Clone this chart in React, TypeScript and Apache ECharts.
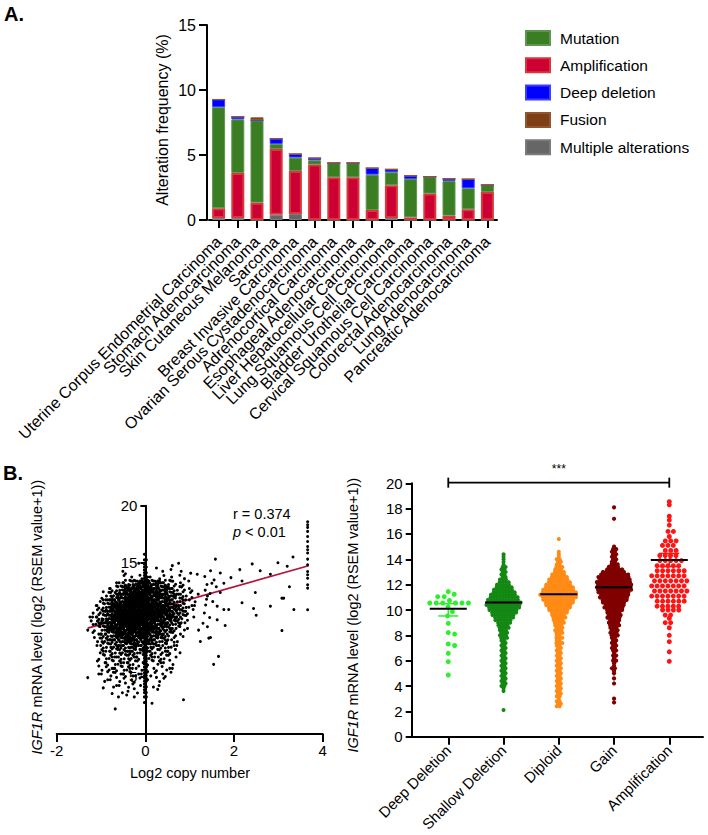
import React, { useEffect, useRef } from "react";
import * as echarts from "echarts";

// ---------- Panel A data ----------
const cancerTypes = [
  "Uterine Corpus Endometrial Carcinoma",
  "Stomach Adenocarcinoma",
  "Skin Cutaneous Melanoma",
  "Sarcoma",
  "Breast Invasive Carcinoma",
  "Ovarian Serous Cystadenocarcinoma",
  "Adrenocortical Carcinoma",
  "Esophageal Adenocarcinoma",
  "Liver Hepatocellular Carcinoma",
  "Lung Squamous Cell Carcinoma",
  "Bladder Urothelial Carcinoma",
  "Cervical Squamous Cell Carcinoma",
  "Colorectal Adenocarcinoma",
  "Lung Adenocarcinoma",
  "Pancreatic Adenocarcinoma",
];
const multipleAlterations = [0.15, 0.15, 0, 0.4, 0.46, 0, 0, 0, 0, 0.15, 0, 0, 0, 0, 0];
const amplification = [0.75, 3.47, 1.33, 5.06, 3.31, 4.26, 3.28, 3.28, 0.77, 2.52, 0.2, 2.03, 0.33, 0.82, 2.15];
const mutation = [7.77, 4.12, 6.34, 0.39, 1.03, 0.33, 1.1, 1.1, 2.72, 1.0, 2.95, 1.3, 2.67, 1.62, 0.54];
const deepDeletion = [0.6, 0.21, 0, 0.41, 0.28, 0.18, 0, 0, 0.51, 0.23, 0.26, 0, 0.18, 0.71, 0];
const fusion = [0, 0, 0.23, 0, 0, 0, 0, 0, 0, 0, 0, 0, 0, 0, 0];
const legendNames = ["Mutation", "Amplification", "Deep deletion", "Fusion", "Multiple alterations"];
const freqTicks = [0, 5, 10, 15];

// ---------- Panel B (left) data: scatter ----------
// density of points per cell: columns x from -1.3 step 0.1, rows y from 15 downward step 0.5
const densityX0 = -1.3;
const densityDX = 0.1;
const densityY0 = 15;
const densityDY = 0.5;
const densityRows = [
  "00000000000100010001100000",
  "00000001100000001010010100",
  "00000000110121101110110000",
  "00000012345666554332111000",
  "00001234567887766543221100",
  "00012345789998877654321110",
  "00123567899988776654322110",
  "01234678999999887765432110",
  "01235789999999988766432100",
  "12346789999999887765431100",
  "12346789999998877654321000",
  "01245778899887766543211000",
  "01234567788776655432110000",
  "01233456676655544322100000",
  "00223344455444433321100000",
  "00122333344333322221100000",
  "00122232333222222211000000",
  "00112222232121212111000000",
  "00112222222111111111000000",
  "00111212222111111110000000",
  "00011111111101011100000000",
  "00010111111100101000000000",
  "00000101011100010000000000",
  "00000010101000000000000000",
];
// points stacked on copy number 0 : counts per 0.5 bin starting at y = 2.5
const stripY0 = 2.5;
const stripCounts = [2, 3, 4, 5, 6, 6, 6, 6, 6, 6, 6, 6, 6, 6, 6, 6, 6, 6, 6, 6, 6, 6, 5, 4, 4, 3, 2];
const sparsePoints = [
  [1.58, 15.32], [2.41, 14.9], [2.99, 15.0], [3.2, 14.7], [3.33, 15.5], [2.13, 14.4], [2.59, 14.3],
  [2.82, 14.0], [2.18, 13.4], [1.93, 13.7], [1.77, 13.2], [2.48, 12.4], [3.25, 12.9], [3.08, 11.9],
  [3.12, 11.9], [2.82, 11.2], [2.18, 11.5], [3.35, 10.9], [2.44, 11.0], [2.5, 10.4], [1.88, 10.9],
  [1.8, 9.5], [3.08, 9.06], [1.47, 8.45], [1.43, 8.4], [1.24, 8.1], [1.65, 6.8], [1.54, 6.1],
  [0.86, 3.0], [0.15, 2.7], [-0.68, 2.2], [-1.3, 4.94], [-1.3, 9.1], [1.17, 14.0], [1.47, 14.3],
  [1.69, 14.1], [1.5, 13.2], [1.39, 13.1], [1.35, 12.6], [1.46, 12.3], [1.69, 12.4], [1.62, 11.2],
  [1.77, 10.9], [1.62, 10.0], [1.4, 9.4], [1.2, 9.1], [1.55, 13.5], [1.38, 11.8], [1.52, 11.6],
  [1.33, 10.6], [1.45, 10.2], [1.34, 13.8], [1.4, 12.1], [1.6, 12.9], [1.3, 9.7], [1.36, 11.3],
];
const maxCopyX = 3.66;
const maxCopyY = [18.6, 18.33, 18.1, 17.75, 17.3, 16.87, 16.43, 16.14, 15.85, 15.32, 14.82, 14.24, 13.95, 13.65, 13.07, 12.78, 10.88];
const regressionLine = [[-1.3, 9.27], [3.68, 14.74]];
const copyTicks = [-2, 0, 2, 4];

// ---------- Panel B (right) data: copy-number groups ----------
const copyCategories = ["Deep Deletion", "Shallow Deletion", "Diploid", "Gain", "Amplification"];
const deepDelValues = [11.45, 11.24, 11.05, 11.05, 10.75, 10.55, 10.55, 10.55, 10.55, 10.55, 10.55, 10.25, 9.87, 9.53, 8.95, 8.22, 8.1, 7.32, 7.2, 6.58, 5.92, 4.87];
const shallowRows = [
  [14.4, 1], [14.2, 1], [14.0, 1], [13.8, 1], [13.6, 1], [13.4, 2], [13.2, 2], [13.0, 2], [12.8, 2], [12.6, 2],
  [12.4, 3], [12.2, 4], [12.0, 5], [11.8, 6], [11.6, 7], [11.4, 8], [11.2, 9], [11.0, 10], [10.8, 11], [10.6, 12],
  [10.4, 12], [10.2, 11], [10.0, 10], [9.8, 9], [9.6, 8], [9.4, 7], [9.2, 6], [9.0, 5], [8.8, 4], [8.6, 4],
  [8.4, 3], [8.2, 3], [8.0, 3], [7.8, 3], [7.6, 2], [7.4, 2], [7.2, 2], [7.0, 2], [6.8, 2], [6.6, 2],
  [6.4, 2], [6.2, 2], [6.0, 2], [5.8, 2], [5.6, 2], [5.4, 2], [5.2, 2], [5.0, 2], [4.8, 2], [4.6, 2],
  [4.4, 2], [4.2, 2], [4.0, 2], [3.8, 1], [3.6, 1], [2.1, 1],
];
const diploidRows = [
  [15.6, 1], [14.6, 1], [14.4, 1], [14.2, 1], [14.0, 2], [13.8, 2], [13.6, 2], [13.4, 3], [13.2, 3], [13.0, 4],
  [12.8, 5], [12.6, 6], [12.4, 7], [12.2, 8], [12.0, 9], [11.8, 10], [11.6, 11], [11.4, 12], [11.2, 13], [11.0, 12],
  [10.8, 11], [10.6, 10], [10.4, 9], [10.2, 8], [10.0, 7], [9.8, 6], [9.6, 5], [9.4, 5], [9.2, 4], [9.0, 4],
  [8.8, 3], [8.6, 3], [8.4, 3], [8.2, 3], [8.0, 2], [7.8, 3], [7.6, 2], [7.4, 3], [7.2, 2], [7.0, 2],
  [6.8, 2], [6.6, 2], [6.4, 2], [6.2, 2], [6.0, 2], [5.8, 2], [5.6, 2], [5.4, 2], [5.2, 2], [5.0, 2],
  [4.8, 2], [4.6, 2], [4.4, 2], [4.2, 2], [4.0, 2], [3.8, 2], [3.6, 2], [3.4, 2], [3.2, 2], [3.0, 1],
  [2.8, 2], [2.6, 2], [2.4, 2],
];
const gainRows = [
  [18.1, 1], [17.2, 1], [15.0, 1], [14.8, 2], [14.6, 2], [14.4, 2], [14.2, 2], [14.0, 2], [13.8, 2], [13.6, 3],
  [13.4, 4], [13.2, 6], [13.0, 8], [12.8, 10], [12.6, 11], [12.4, 11], [12.2, 12], [12.0, 12], [11.8, 12], [11.6, 12],
  [11.4, 11], [11.2, 10], [11.0, 10], [10.8, 9], [10.6, 8], [10.4, 7], [10.2, 7], [10.0, 6], [9.8, 5], [9.6, 5],
  [9.4, 5], [9.2, 4], [9.0, 4], [8.8, 4], [8.6, 3], [8.4, 3], [8.2, 3], [8.0, 3], [7.8, 2], [7.6, 2],
  [7.4, 2], [7.2, 2], [7.0, 2], [6.8, 2], [6.6, 1], [6.4, 2], [6.2, 1], [6.0, 2], [5.8, 1], [5.6, 1],
  [5.4, 2], [5.2, 1], [5.0, 1], [4.6, 1], [4.2, 1], [3.0, 1], [2.7, 1],
];
const ampRows = [
  [18.55, 1], [18.3, 1], [17.4, 1], [17.1, 1], [16.7, 1], [16.2, 2], [15.8, 1], [15.45, 3], [15.1, 3], [14.7, 3],
  [14.3, 4], [13.9, 5], [13.5, 5], [13.1, 6], [12.7, 7], [12.3, 7], [11.9, 7], [11.5, 7], [11.1, 7], [10.7, 6],
  [10.3, 5], [10.0, 4], [9.6, 2], [9.35, 1], [9.0, 2], [8.6, 1], [8.0, 1], [7.5, 1], [6.7, 1], [5.95, 1],
];
const groupMeans = [10.1, 10.6, 11.25, 11.8, 13.95];
const groupErrors = [[0, 9.53, 10.5], [4, 13.43, 14.47]];
const groupColors = ["#2cf02c", "#138813", "#ff8a14", "#800000", "#ff1414"];
const mrnaTicks = [0, 2, 4, 6, 8, 10, 12, 14, 16, 18, 20];

const FONT = "'Liberation Sans', Arial, Helvetica, sans-serif";

// beeswarm axis geometry
const B_LEFT = 411.7, B_WIDTH = 291.3, B_TOP = 483.3, B_HEIGHT = 253.4;
const B_MIN = -0.662, B_MAX = 4.61;
const PX_PER_UNIT = B_WIDTH / (B_MAX - B_MIN);
const PX_PER_Y = B_HEIGHT / 20;

// scatter axis geometry
const S_LEFT = 56.7, S_WIDTH = 266, S_TOP = 505.7, S_HEIGHT = 228.3;
const S_MIN = -2, S_MAX = 4;

function rowsToPoints(cat: number, rows: number[][], spacing: number, altShift: number) {
  const pts: number[][] = [];
  rows.forEach(([v, n], i) => {
    const shift = i % 2 ? altShift : -altShift;
    for (let k = 0; k < n; k++) {
      pts.push([cat + ((k - (n - 1) / 2) * spacing + (n > 1 ? shift : 0)) / PX_PER_UNIT, v]);
    }
  });
  return pts;
}

function swarm(cat: number, values: number[], d: number) {
  const placed: number[][] = [];
  const sorted = [...values].sort((a, b) => b - a);
  for (const v of sorted) {
    const y = v * PX_PER_Y;
    const cands = [0];
    for (const p of placed) {
      const dy = Math.abs(p[1] - y);
      if (dy < d) {
        const dx = Math.sqrt(d * d - dy * dy);
        cands.push(p[0] + dx, p[0] - dx);
      }
    }
    cands.sort((a, b) => Math.abs(a) - Math.abs(b));
    for (const c of cands) {
      if (placed.every((p) => (p[0] - c) ** 2 + (p[1] - y) ** 2 >= d * d - 0.01)) {
        placed.push([c, y]);
        break;
      }
    }
  }
  return placed.map(([x, y]) => [cat + x / PX_PER_UNIT, y / PX_PER_Y]);
}

function buildScatterPoints() {
  const pts: number[][] = [];
  const pattern = [[0.5, 0.5], [0.18, 0.22], [0.82, 0.78], [0.22, 0.82], [0.78, 0.18], [0.5, 0.08], [0.5, 0.92], [0.08, 0.5], [0.92, 0.5]];
  densityRows.forEach((row, r) => {
    for (let c = 0; c < row.length; c++) {
      const n = Number(row[c]);
      const start = (r * 4 + c * 7) % 9;
      for (let k = 0; k < n; k++) {
        const p = pattern[(start + k) % 9];
        pts.push([densityX0 + (c + p[0]) * densityDX, densityY0 - (r + p[1]) * densityDY]);
      }
    }
  });
  const stripX = [-0.022, 0, 0.022];
  stripCounts.forEach((n, i) => {
    const rowsInBin = Math.ceil(n / 3);
    for (let k = 0; k < n; k++) {
      const rr = Math.floor(k / 3);
      pts.push([stripX[k % 3], stripY0 + i * 0.5 + ((rr + 0.5) / rowsInBin) * 0.5]);
    }
  });
  sparsePoints.forEach((p) => pts.push(p));
  maxCopyY.forEach((y) => pts.push([maxCopyX, y]));
  return pts;
}

const axisLineStyle = { show: true, onZero: false, lineStyle: { color: "#000", width: 2 } };
const tickStyle = { color: "#000", width: 2 };
const labelStyle = { color: "#000", fontSize: 15, fontFamily: FONT };

function buildOption(): any {
  const barSeries = [
    { name: "Multiple alterations", data: multipleAlterations, color: "#666666", border: "#7a7a7a" },
    { name: "Amplification", data: amplification, color: "#cc0033", border: "#d8383c" },
    { name: "Mutation", data: mutation, color: "#3a7d23", border: "#5c9650" },
    { name: "Deep deletion", data: deepDeletion, color: "#0000ff", border: "#3d3dff" },
    { name: "Fusion", data: fusion, color: "#7f3f16", border: "#93552c" },
  ].map((s) => ({
    type: "bar",
    name: s.name,
    stack: "alt",
    xAxisIndex: 0,
    yAxisIndex: 0,
    barWidth: 13,
    data: s.data,
    itemStyle: { color: s.color, borderColor: s.border, borderWidth: s.name === "Amplification" ? 2 : 1 },
  }));

  const groupPoints = [
    { data: swarm(0, deepDelValues, 6.5), size: 5 },
    { data: rowsToPoints(1, shallowRows, 3, 0.6), size: 4 },
    { data: rowsToPoints(2, diploidRows, 3, 0.6), size: 4 },
    { data: rowsToPoints(3, gainRows, 3, 0.6), size: 4.2 },
    { data: rowsToPoints(4, ampRows, 5.4, 1.4), size: 5 },
  ].map((g, i) => ({
    type: "scatter",
    xAxisIndex: 2,
    yAxisIndex: 2,
    symbolSize: g.size,
    data: g.data,
    itemStyle: { color: groupColors[i], opacity: 1 },
    silent: true,
    z: 2,
  }));

  // y axis of the scatter sits on copy number 0
  const zeroOffset = -((0 - S_MIN) / (S_MAX - S_MIN)) * S_WIDTH;

  const yTitle = (x: number, y: number) => ({
    type: "text",
    x,
    y,
    rotation: Math.PI / 2,
    style: {
      text: "{i|IGF1R} mRNA level (log2 (RSEM value+1))",
      rich: { i: { fontStyle: "italic", fontSize: 14.5, fontFamily: FONT, fill: "#000" } },
      fontSize: 14.5,
      fontFamily: FONT,
      fill: "#000",
      align: "center",
      verticalAlign: "middle",
    },
  });

  return {
    animation: false,
    textStyle: { fontFamily: FONT },
    grid: [
      { left: 209, top: 25, width: 288, height: 195 },
      { left: S_LEFT, top: S_TOP, width: S_WIDTH, height: S_HEIGHT },
      { left: B_LEFT, top: B_TOP, width: B_WIDTH, height: B_HEIGHT },
    ],
    legend: {
      data: legendNames,
      orient: "vertical",
      left: 525,
      top: 30,
      padding: 0,
      itemWidth: 24,
      itemHeight: 14,
      itemGap: 11.3,
      icon: "rect",
      selectedMode: false,
      textStyle: { color: "#000", fontSize: 15.5, fontFamily: FONT, padding: [0, 0, 0, 5] },
    },
    xAxis: [
      {
        gridIndex: 0,
        type: "category",
        data: cancerTypes,
        axisLine: axisLineStyle,
        axisTick: { show: true, alignWithLabel: true, interval: 0, length: 8, lineStyle: tickStyle },
        axisLabel: { ...labelStyle, fontSize: 16, rotate: 45, interval: 0, margin: 19 },
      },
      {
        gridIndex: 1,
        type: "value",
        min: S_MIN,
        max: S_MAX,
        interval: 2,
        splitLine: { show: false },
        axisLine: axisLineStyle,
        axisTick: { show: true, length: 8, lineStyle: tickStyle },
        axisLabel: { ...labelStyle, margin: 9, customValues: copyTicks },
      },
      {
        gridIndex: 2,
        type: "value",
        min: B_MIN,
        max: B_MAX,
        splitLine: { show: false },
        axisLine: axisLineStyle,
        axisTick: { show: true, length: 8, lineStyle: tickStyle, customValues: [0, 1, 2, 3, 4] },
        axisLabel: {
          ...labelStyle,
          rotate: 45,
          margin: 11,
          customValues: [0, 1, 2, 3, 4],
          formatter: (v: number) => copyCategories[Math.round(v)] || "",
        },
      },
    ],
    yAxis: [
      {
        gridIndex: 0,
        type: "value",
        min: 0,
        max: 15,
        interval: 5,
        offset: 2,
        splitLine: { show: false },
        axisLine: axisLineStyle,
        axisTick: { show: true, length: 8, lineStyle: tickStyle },
        axisLabel: { ...labelStyle, fontSize: 16, margin: 11, customValues: freqTicks },
      },
      {
        gridIndex: 1,
        type: "value",
        min: 0,
        max: 20,
        interval: 5,
        offset: zeroOffset,
        splitLine: { show: false },
        axisLine: axisLineStyle,
        axisTick: { show: true, length: 5, lineStyle: tickStyle },
        axisLabel: { ...labelStyle, margin: 8, showMinLabel: false },
      },
      {
        gridIndex: 2,
        type: "value",
        min: 0,
        max: 20,
        interval: 2,
        splitLine: { show: false },
        axisLine: axisLineStyle,
        axisTick: { show: true, length: 6, lineStyle: tickStyle },
        axisLabel: { ...labelStyle, margin: 9, customValues: mrnaTicks },
      },
    ],
    series: [
      ...barSeries,
      {
        type: "line",
        xAxisIndex: 1,
        yAxisIndex: 1,
        data: regressionLine,
        symbol: "none",
        lineStyle: { color: "#b3143a", width: 1.8 },
        silent: true,
        z: 2,
      },
      {
        type: "scatter",
        xAxisIndex: 1,
        yAxisIndex: 1,
        symbolSize: 3,
        data: buildScatterPoints(),
        itemStyle: { color: "#000", opacity: 1 },
        silent: true,
        z: 3,
      },
      ...groupPoints,
      {
        type: "custom",
        xAxisIndex: 2,
        yAxisIndex: 2,
        data: groupErrors,
        z: 4,
        silent: true,
        renderItem: (params: any, api: any) => {
          const cat = api.value(0);
          const lo = api.coord([cat, api.value(1)]);
          const hi = api.coord([cat, api.value(2)]);
          const color = groupColors[Math.round(cat)];
          const hw = 10;
          return {
            type: "group",
            children: [
              { type: "line", shape: { x1: lo[0], y1: lo[1], x2: hi[0], y2: hi[1] }, style: { stroke: color, lineWidth: 1.5 } },
              { type: "line", shape: { x1: lo[0] - hw, y1: lo[1], x2: lo[0] + hw, y2: lo[1] }, style: { stroke: color, lineWidth: 1.5 } },
              { type: "line", shape: { x1: hi[0] - hw, y1: hi[1], x2: hi[0] + hw, y2: hi[1] }, style: { stroke: color, lineWidth: 1.5 } },
            ],
          };
        },
      },
      {
        type: "custom",
        xAxisIndex: 2,
        yAxisIndex: 2,
        data: groupMeans.map((m, i) => [i, m]),
        z: 6,
        silent: true,
        renderItem: (params: any, api: any) => {
          const p = api.coord([api.value(0), api.value(1)]);
          return {
            type: "line",
            shape: { x1: p[0] - 18.5, y1: p[1], x2: p[0] + 18.5, y2: p[1] },
            style: { stroke: "#000", lineWidth: 2 },
          };
        },
      },
      {
        type: "custom",
        xAxisIndex: 2,
        yAxisIndex: 2,
        data: [[0, 4, 20.05]],
        clip: false,
        z: 6,
        silent: true,
        renderItem: (params: any, api: any) => {
          const a = api.coord([api.value(0), api.value(2)]);
          const b = api.coord([api.value(1), api.value(2)]);
          return {
            type: "group",
            children: [
              { type: "line", shape: { x1: a[0], y1: a[1], x2: b[0], y2: b[1] }, style: { stroke: "#000", lineWidth: 1.8 } },
              { type: "line", shape: { x1: a[0], y1: a[1] - 5, x2: a[0], y2: a[1] + 5 }, style: { stroke: "#000", lineWidth: 1.8 } },
              { type: "line", shape: { x1: b[0], y1: b[1] - 5, x2: b[0], y2: b[1] + 5 }, style: { stroke: "#000", lineWidth: 1.8 } },
              {
                type: "text",
                x: (a[0] + b[0]) / 2,
                y: a[1] - 14,
                style: { text: "***", fontSize: 12, fontFamily: FONT, fill: "#000", align: "center", verticalAlign: "middle" },
              },
            ],
          };
        },
      },
    ],
    graphic: [
      { type: "text", x: 4, y: 4, style: { text: "A.", fontSize: 20, fontWeight: "bold", fontFamily: FONT, fill: "#000" } },
      { type: "text", x: 3, y: 463, style: { text: "B.", fontSize: 20, fontWeight: "bold", fontFamily: FONT, fill: "#000" } },
      {
        type: "text",
        x: 162,
        y: 120,
        rotation: Math.PI / 2,
        style: { text: "Alteration frequency (%)", fontSize: 16, fontFamily: FONT, fill: "#000", align: "center", verticalAlign: "middle" },
      },
      yTitle(37, 617),
      yTitle(353, 615),
      {
        type: "text",
        x: 190,
        y: 773,
        style: { text: "Log2 copy number", fontSize: 14.5, fontFamily: FONT, fill: "#000", align: "center", verticalAlign: "middle" },
      },
      {
        type: "text",
        x: 233,
        y: 514,
        style: { text: "r = 0.374", fontSize: 14.5, fontFamily: FONT, fill: "#000", align: "left", verticalAlign: "middle" },
      },
      {
        type: "text",
        x: 233,
        y: 532,
        style: {
          text: "{i|p} < 0.01",
          rich: { i: { fontStyle: "italic", fontSize: 14.5, fontFamily: FONT, fill: "#000" } },
          fontSize: 14.5,
          fontFamily: FONT,
          fill: "#000",
          align: "left",
          verticalAlign: "middle",
        },
      },
    ],
  };
}

export default function App() {
  const ref = useRef<HTMLDivElement>(null);
  useEffect(() => {
    document.body.style.margin = "0";
    const chart = echarts.init(ref.current as HTMLDivElement, null, { renderer: "svg" });
    chart.setOption(buildOption());
    return () => chart.dispose();
  }, []);
  return <div ref={ref} style={{ width: 708, height: 835 }} />;
}
